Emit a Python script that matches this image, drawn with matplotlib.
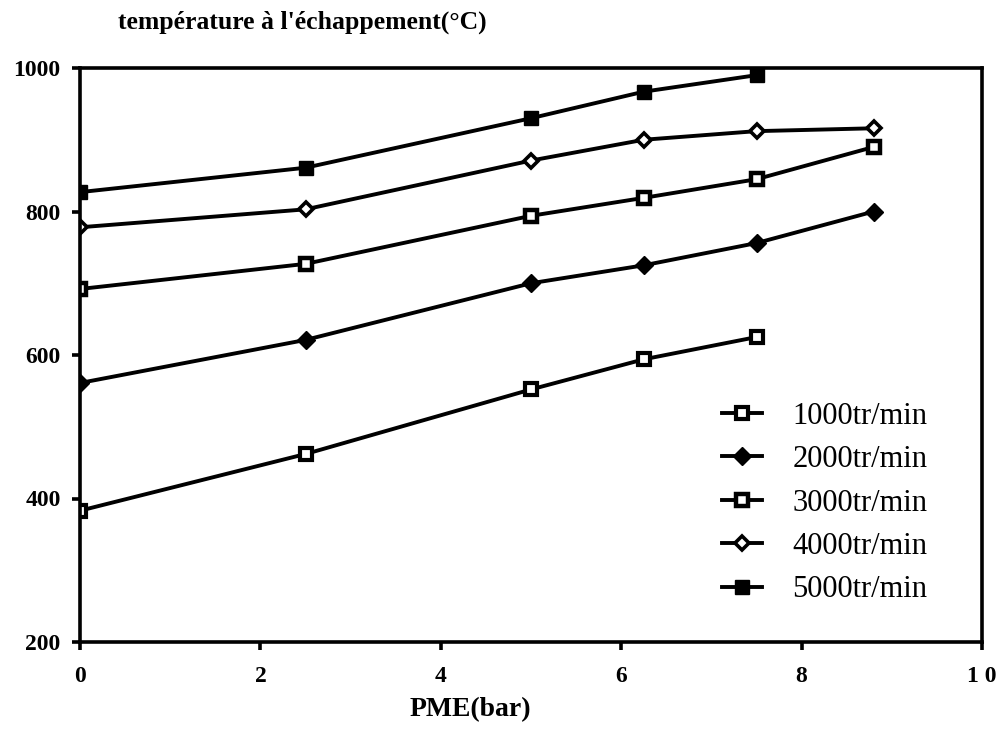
import matplotlib
matplotlib.use("Agg")
import matplotlib.pyplot as plt
from matplotlib.ticker import FixedLocator, FixedFormatter

plt.rcParams['font.family'] = ['Liberation Serif', 'DejaVu Serif']

# PME (bar) for each speed
pme_long = [0, 2.5, 5, 6.25, 7.5, 8.8]
pme_short = [0, 2.5, 5, 6.25, 7.5]

# exhaust temperature (deg C)
t1000 = [383, 462, 552, 594, 625]
t2000 = [561, 621, 700, 725, 756, 800]
t3000 = [692, 727, 794, 819, 845, 890]
t4000 = [778, 803, 871, 900, 912, 916]
t5000 = [827, 861, 930, 967, 990]

labels = ["1000tr/min", "2000tr/min", "3000tr/min", "4000tr/min", "5000tr/min"]
xticks = [0, 2, 4, 6, 8, 10]
xticklabels = ["0", "2", "4", "6", "8", "1 0"]
yticks = [200, 400, 600, 800, 1000]

fig = plt.figure(figsize=(10.01, 7.32), dpi=100)
ax = fig.add_axes([80/1001, 1-642/732, 902/1001, 574/732])

lw = 2.8
ax.plot(pme_short, t1000, color="black", lw=lw, marker="s", ms=8,
        mfc="white", mec="black", mew=3.0, label=labels[0])
ax.plot(pme_long, t2000, color="black", lw=lw, marker="D", ms=9,
        mfc="black", mec="black", label=labels[1])
ax.plot(pme_long, t3000, color="black", lw=lw, marker="s", ms=8.5,
        mfc="white", mec="black", mew=3.2, label=labels[2])
ax.plot(pme_long, t4000, color="black", lw=lw, marker="D", ms=7.5,
        mfc="white", mec="black", mew=2.6, label=labels[3])
ax.plot(pme_short, t5000, color="black", lw=lw, marker="s", ms=10,
        mfc="black", mec="black", label=labels[4])

ax.set_xlim(0, 10)
ax.set_ylim(200, 1000)
ax.xaxis.set_major_locator(FixedLocator(xticks))
ax.xaxis.set_major_formatter(FixedFormatter(xticklabels))
ax.yaxis.set_major_locator(FixedLocator(yticks))

for s in ax.spines.values():
    s.set_linewidth(2.6)
ax.tick_params(axis="both", direction="out", length=6, width=2.6,
               labelsize=17, pad=8)
ax.tick_params(axis="x", pad=11)
for lab in ax.get_xticklabels() + ax.get_yticklabels():
    lab.set_fontweight("bold")

fig.text(118/1001, 1-22/732, "température à l'échappement(°C)",
         fontsize=18.5, fontweight="bold", ha="left", va="center")
fig.text(470/1001, 1-710/732, "PME(bar)", fontsize=20, fontweight="bold",
         ha="center", va="center")

leg = ax.legend(loc="center left", bbox_to_anchor=(722/1001, 1-503/732),
                bbox_transform=fig.transFigure, frameon=False, fontsize=22,
                handlelength=1.3, handletextpad=1.0, labelspacing=0.47,
                borderpad=0, borderaxespad=0)

fig.savefig("out.png", dpi=100)
